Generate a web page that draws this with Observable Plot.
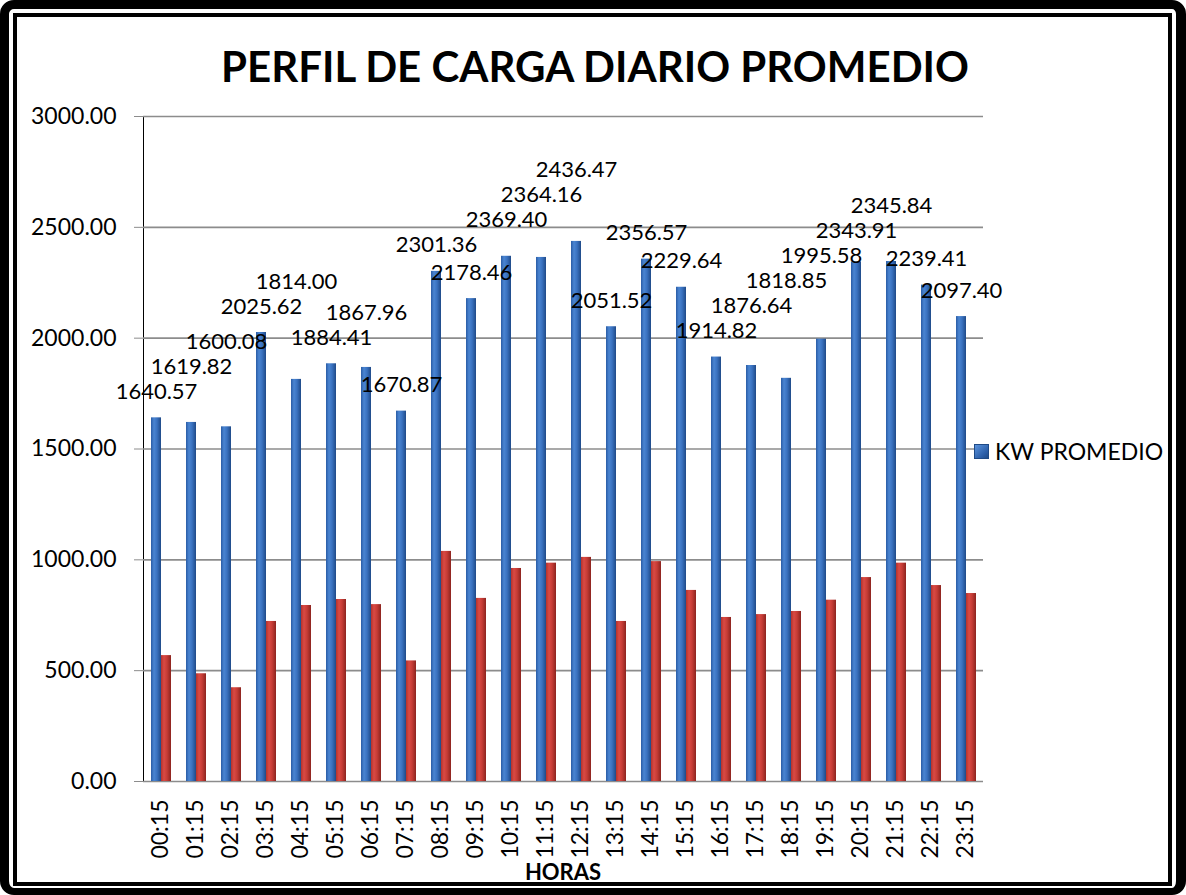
<!DOCTYPE html>
<html>
<head>
<meta charset="utf-8">
<script src="https://cdn.jsdelivr.net/npm/d3@7"></script>
<script src="https://cdn.jsdelivr.net/npm/@observablehq/plot@0.6"></script>
<style>
  html, body { margin: 0; padding: 0; background: #fff; }
  #wrap { position: relative; width: 1186px; height: 895px; overflow: hidden; background: #fff; font-family: Lato, "Open Sans", sans-serif; }
  #chart { position: absolute; left: 0; top: 0; }
  #outer { position: absolute; left: 0; top: 0; width: 1186px; height: 895px; box-sizing: border-box;
           border-style: solid; border-color: #000; border-width: 9px 10px 7px 9px; border-radius: 14px; z-index: 5; pointer-events: none; }
  #inner { position: absolute; left: 13px; top: 13px; width: 1159px; height: 873px; box-sizing: border-box;
           border: 4px solid #000; z-index: 5; pointer-events: none; }
  #title { position: absolute; left: 20px; width: 1150px; top: 41px; text-align: center; font-weight: 700; font-size: 42px; color: #000; z-index: 3; white-space: nowrap; }
  #xlabel { position: absolute; left: 463px; width: 200px; top: 858px; text-align: center; font-weight: 700; font-size: 22px; color: #000; z-index: 3; }
  #legend { position: absolute; left: 974px; top: 437px; display: flex; align-items: center; z-index: 3; font-size: 23px; color: #000; }
  #legend .sw { width: 15px; height: 15px; margin-right: 6px; background: linear-gradient(135deg, #5b93dc, #2b5ea8 70%, #1f4a86); border: 1px solid #1f4a86; box-sizing: border-box; }
  #chart [aria-label="y-axis tick"], #chart [aria-label="y-axis line"] { color: #8c8c8c; }
</style>
</head>
<body>
<div id="wrap">
  <div id="chart"></div>
  <div id="title">PERFIL DE CARGA DIARIO PROMEDIO</div>
  <div id="xlabel">HORAS</div>
  <div id="legend"><div class="sw"></div><span>KW PROMEDIO</span></div>
  <div id="outer"></div>
  <div id="inner"></div>
</div>
<script>
// ---- data ----
const horas = ["00:15","01:15","02:15","03:15","04:15","05:15","06:15","07:15","08:15","09:15","10:15","11:15",
               "12:15","13:15","14:15","15:15","16:15","17:15","18:15","19:15","20:15","21:15","22:15","23:15"];
const kwPromedio = [1640.57, 1619.82, 1600.08, 2025.62, 1814.00, 1884.41, 1867.96, 1670.87, 2301.36, 2178.46, 2369.40, 2364.16,
                    2436.47, 2051.52, 2356.57, 2229.64, 1914.82, 1876.64, 1818.85, 1995.58, 2343.91, 2345.84, 2239.41, 2097.40];
const kvarPromedio = [568, 486, 423, 722, 794, 821, 798, 544, 1038, 826, 961, 985,
                      1011, 722, 992, 862, 740, 753, 767, 818, 920, 985, 884, 848];
const series = ["KW PROMEDIO", "KVAR PROMEDIO"];
const yTicks = [0, 500, 1000, 1500, 2000, 2500, 3000];

// ---- layout ----
const W = 1186, H = 880;
const mTop = 116, mBottom = 99, mLeft = 141, mRight = 201;
const yMax = 3000;
const fmt = d3.format(".2f");

const rows = [];
horas.forEach((h, i) => {
  rows.push({hora: h, serie: series[0], valor: kwPromedio[i]});
  rows.push({hora: h, serie: series[1], valor: kvarPromedio[i]});
});

// greedy label stacking (avoid overlaps between neighbouring labels)
const pxPerUnit = (H - mTop - mBottom) / yMax;
const stepPx = (W - mLeft - mRight) / horas.length;
const labelW = 86, labelH = 25, gapPx = 26;
const centers = [];
kwPromedio.forEach((v, i) => {
  let c = v + gapPx / pxPerUnit;
  let moved = true;
  while (moved) {
    moved = false;
    for (let j = Math.max(0, i - 3); j < i; j++) {
      if ((i - j) * stepPx < labelW && Math.abs(c - centers[j]) < labelH / pxPerUnit) {
        c = centers[j] + labelH / pxPerUnit;
        moved = true;
      }
    }
  }
  centers.push(c);
});
const labels = horas.map((h, i) => ({hora: h, serie: series[0], labelY: centers[i], texto: fmt(kwPromedio[i])}));

const chart = Plot.plot({
  width: W, height: H,
  marginTop: mTop, marginBottom: mBottom, marginLeft: mLeft, marginRight: mRight,
  style: {fontFamily: "Lato, 'Open Sans', sans-serif", fontSize: "23px", color: "#000", background: "#fff", overflow: "visible"},
  fx: {domain: horas, padding: 0, axis: "bottom", tickRotate: -90, tickSize: 0, tickPadding: 18, label: null},
  x: {domain: series, paddingInner: 0, paddingOuter: 0.6, axis: null},
  y: {domain: [0, yMax], ticks: 6, tickFormat: fmt, tickSize: 9, tickPadding: 18, label: null, line: true},
  color: {domain: series, range: ["url(#gradKW)", "url(#gradKVAR)"]},
  marks: [
    Plot.ruleY(yTicks, {stroke: "#8c8c8c", strokeWidth: 1.6}),
    Plot.barY(rows, {fx: "hora", x: "serie", y: "valor", fill: "serie"}),
    Plot.text(labels, {fx: "hora", x: "serie", y: "labelY", text: "texto", lineAnchor: "middle", fill: "#000", fontSize: 22})
  ]
});

// gradients to imitate the 3-D shading of the columns
const defs = d3.create("svg:defs");
const addGrad = (id, stops) => {
  const g = defs.append("linearGradient").attr("id", id).attr("x1", 0).attr("x2", 1).attr("y1", 0).attr("y2", 0);
  stops.forEach(([o, c]) => g.append("stop").attr("offset", o).attr("stop-color", c));
};
addGrad("gradKW", [["0%", "#2a5ca5"], ["30%", "#4a85d2"], ["60%", "#3a72c0"], ["100%", "#1f4a88"]]);
addGrad("gradKVAR", [["0%", "#b3322d"], ["30%", "#d94a44"], ["60%", "#c63c36"], ["100%", "#8c241f"]]);
chart.insertBefore(defs.node(), chart.firstChild);

document.getElementById("chart").appendChild(chart);
</script>
</body>
</html>
